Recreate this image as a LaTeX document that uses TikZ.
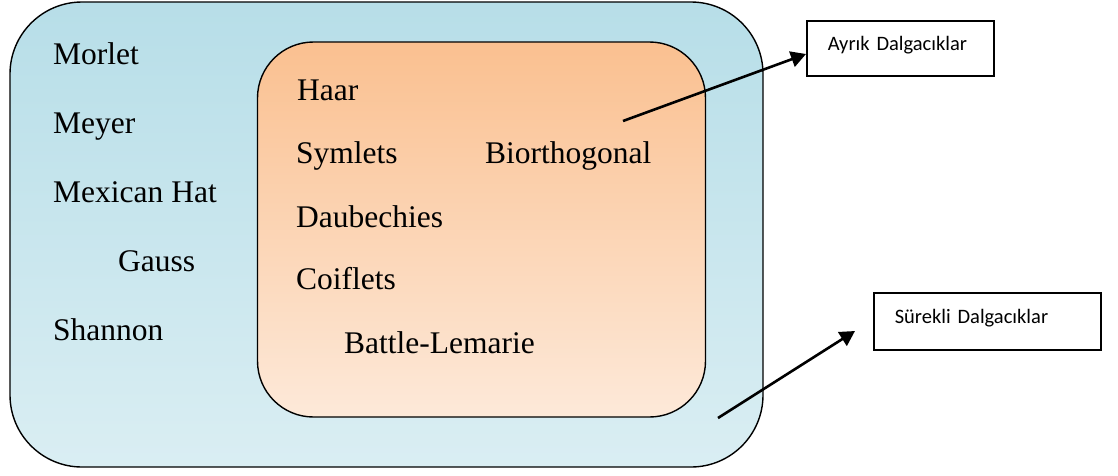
\documentclass[tikz,border=0pt]{standalone}
\usepackage{fontspec}
\setmainfont{Liberation Serif}
\newfontfamily\calfont{Carlito}
\usetikzlibrary{arrows.meta}
\definecolor{outtop}{HTML}{B7DEE8}
\definecolor{outbot}{HTML}{DAEEF3}
\definecolor{intop}{HTML}{FAC090}
\definecolor{inbot}{HTML}{FDE9D9}
\begin{document}
\begin{tikzpicture}[x=1pt,y=-1pt,
  bigtext/.style={anchor=base west,inner sep=0pt,font=\fontsize{31.5}{36}\selectfont},
  labelbox/.style={draw,line width=1.5pt,anchor=north west,inner ysep=0pt,inner xsep=21pt,align=left,font=\calfont\fontsize{20.5}{24}\selectfont},
  pointer/.style={line width=2.6pt,-{Triangle[length=15pt,width=16pt]}}]
\useasboundingbox (0,0) rectangle (1118,475);
% outer region
\node[draw,line width=1.4pt,rounded corners=72pt,top color=outtop,bottom color=outbot,
  minimum width=753pt,minimum height=465pt,inner sep=0pt] (outer) at (386.5,234.5) {};
% inner region
\node[draw,line width=1.4pt,rounded corners=56pt,top color=intop,bottom color=inbot,
  minimum width=448pt,minimum height=375pt,inner sep=0pt] (inner) at (481.5,229.5) {};
% outer texts
\node[bigtext] (morlet) at (53,64) {Morlet};
\node[bigtext] (meyer) at (53,133) {Meyer};
\node[bigtext] (mexican) at (53,202) {Mexican Hat};
\node[bigtext] (gauss) at (118,271) {Gauss};
\node[bigtext] (shannon) at (53,340) {Shannon};
% inner texts
\node[bigtext] (haar) at (297,100) {Haar};
\node[bigtext] (symlets) at (296,163.5) {Symlets};
\node[bigtext] (bior) at (485,163.5) {Biorthogonal};
\node[bigtext] (daub) at (296,227) {Daubechies};
\node[bigtext] (coif) at (296,289.5) {Coiflets};
\node[bigtext] (battle) at (344,353) {Battle-Lemarie};
% label boxes
\node[labelbox,text width=145pt,text height=30pt,text depth=25pt] (ayrik) at (806,20) {Ayrık Dalgacıklar};
\node[labelbox,text width=185pt,text height=31pt,text depth=26pt] (surekli) at (873,292) {Sürekli Dalgacıklar};
% arrows
\coordinate (a1s) at (623,121);
\coordinate (a1e) at (806,54);
\coordinate (a2s) at (718,418);
\coordinate (a2e) at (855,331);
\draw[pointer] (a1s) -- (a1e);
\draw[pointer] (a2s) -- (a2e);
\end{tikzpicture}
\end{document}
